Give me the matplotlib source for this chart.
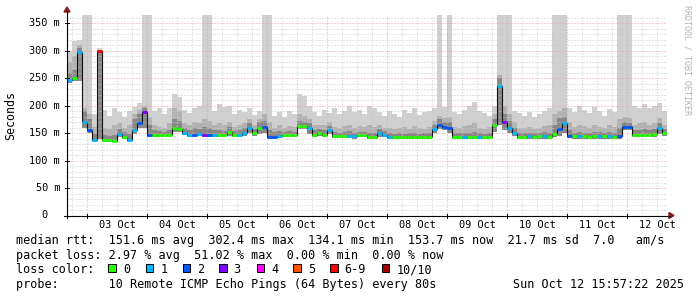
import numpy as np
import matplotlib
matplotlib.use('Agg')
import matplotlib.pyplot as plt
import matplotlib.transforms as mtransforms
from matplotlib.lines import Line2D
from matplotlib.patches import Polygon, Rectangle

W, H = 697, 297
MONO = 'DejaVu Sans Mono'

# ---- data: one sample every 2 h, starting 02 Oct 16:00 ----
step_h = 2
median = [247, 250, 298, 170, 156, 138, 300, 138, 137, 136,
          148, 143, 138, 156, 168, 188, 147, 147, 146, 146,
          147, 160, 158, 151, 147, 147, 148, 147, 146, 147,
          147, 147, 152, 147, 147, 150, 160, 150, 160, 161,
          143, 143, 145, 147, 147, 147, 163, 163, 160, 147,
          150, 147, 156, 145, 145, 145, 145, 144, 146, 146,
          143, 143, 150, 147, 143, 143, 143, 143, 143, 143,
          143, 143, 143, 158, 165, 162, 160, 143, 143, 143,
          143, 143, 143, 143, 143, 165, 235, 170, 160, 150,
          143, 143, 144, 143, 144, 144, 143, 148, 158, 168,
          145, 144, 144, 144, 143, 144, 145, 144, 144, 143,
          144, 161, 161, 147, 147, 147, 146, 148, 160, 150]
loss = [1, 0, 1, 1, 2, 1, 7, 0, 0, 0,
        1, 0, 1, 1, 2, 3, 2, 0, 0, 0,
        0, 0, 0, 1, 1, 2, 1, 3, 2, 1,
        0, 0, 0, 0, 1, 1, 1, 0, 0, 2,
        2, 2, 1, 0, 0, 0, 0, 0, 1, 0,
        0, 0, 1, 0, 0, 0, 1, 1, 0, 0,
        0, 0, 1, 1, 1, 0, 0, 0, 0, 0,
        0, 0, 0, 1, 2, 2, 2, 0, 0, 1,
        0, 0, 1, 0, 0, 0, 1, 3, 1, 1,
        0, 0, 1, 0, 0, 1, 0, 0, 2, 1,
        2, 0, 1, 0, 0, 0, 1, 0, 1, 0,
        2, 2, 2, 0, 0, 0, 0, 0, 1, 0]
# smoke: lowest ping, top of dark band, top of medium band, highest ping
rtt_lo = [242, 245, 245, 160, 150, 135, 140, 134, 134, 133,
          142, 139, 135, 148, 160, 160, 142, 143, 142, 142,
          143, 152, 152, 146, 143, 143, 144, 142, 142, 143,
          143, 143, 145, 143, 143, 145, 150, 144, 148, 150,
          139, 139, 141, 143, 143, 143, 158, 158, 148, 143,
          144, 143, 148, 141, 141, 141, 141, 140, 142, 142,
          139, 139, 143, 142, 139, 139, 139, 139, 139, 139,
          139, 139, 139, 150, 158, 155, 150, 139, 139, 139,
          139, 139, 139, 139, 139, 152, 165, 155, 150, 145,
          139, 139, 140, 139, 140, 140, 139, 142, 145, 150,
          141, 140, 140, 140, 139, 140, 140, 140, 140, 139,
          140, 155, 155, 143, 143, 143, 143, 143, 148, 145]
rtt_dark = [260, 265, 305, 190, 175, 148, 300, 146, 145, 146,
            158, 152, 148, 175, 185, 195, 165, 155, 153, 152,
            155, 175, 172, 160, 156, 160, 158, 162, 160, 155,
            155, 153, 162, 153, 155, 160, 168, 158, 170, 172,
            155, 152, 153, 152, 153, 152, 172, 170, 168, 155,
            158, 155, 163, 152, 151, 152, 153, 150, 152, 152,
            150, 150, 158, 154, 150, 149, 150, 149, 150, 150,
            149, 150, 150, 165, 175, 170, 170, 150, 150, 151,
            150, 152, 150, 149, 150, 175, 250, 185, 172, 160,
            150, 150, 151, 150, 151, 152, 150, 165, 178, 180,
            155, 151, 152, 151, 150, 152, 152, 151, 152, 150,
            160, 170, 168, 155, 156, 157, 155, 157, 168, 158]
rtt_mid = [280, 290, 310, 195, 185, 162, 302, 160, 158, 165,
           168, 160, 165, 185, 192, 200, 180, 165, 162, 160,
           168, 195, 190, 168, 165, 170, 168, 175, 172, 165,
           168, 165, 170, 162, 165, 168, 175, 165, 175, 185,
           170, 160, 165, 160, 163, 162, 185, 182, 175, 165,
           165, 165, 170, 162, 160, 163, 165, 160, 163, 162,
           165, 162, 165, 160, 160, 158, 160, 162, 158, 163,
           160, 158, 162, 172, 182, 178, 180, 162, 160, 163,
           165, 168, 160, 158, 162, 185, 255, 200, 185, 170,
           160, 160, 162, 158, 160, 163, 165, 185, 190, 195,
           170, 162, 165, 163, 160, 165, 162, 160, 165, 162,
           175, 180, 178, 165, 168, 170, 165, 168, 178, 165]
rtt_hi = [298, 318, 320, 400, 400, 185, 305, 192, 182, 195,
          188, 180, 190, 198, 205, 400, 400, 190, 195, 185,
          196, 222, 215, 192, 186, 196, 200, 400, 400, 190,
          203, 198, 200, 185, 192, 188, 196, 183, 190, 400,
          400, 182, 188, 180, 190, 185, 222, 218, 200, 188,
          182, 192, 186, 195, 184, 190, 200, 188, 192, 185,
          200, 195, 188, 182, 190, 185, 180, 192, 186, 195,
          183, 188, 190, 195, 400, 198, 400, 188, 184, 192,
          200, 207, 190, 186, 182, 200, 400, 400, 400, 190,
          186, 182, 188, 180, 185, 190, 195, 400, 400, 400,
          195, 188, 200, 192, 186, 198, 190, 182, 194, 188,
          400, 400, 400, 200, 196, 203, 195, 200, 205, 190]

day_labels = ['03 Oct', '04 Oct', '05 Oct', '06 Oct', '07 Oct',
              '08 Oct', '09 Oct', '10 Oct', '11 Oct', '12 Oct']
y_values = [0, 50, 100, 150, 200, 250, 300, 350]
y_labels = ['0', '50 m', '100 m', '150 m', '200 m', '250 m', '300 m', '350 m']

loss_names = ['0', '1', '2', '3', '4', '5', '6-9', '10/10']
loss_colors = ['#26ff00', '#00b8ff', '#0059ff', '#7e00ff',
               '#ff00ff', '#ff5500', '#ff0000', '#a10000']

legend_rtt = 'median rtt:  151.6 ms avg  302.4 ms max  134.1 ms min  153.7 ms now  21.7 ms sd  7.0   am/s'
legend_loss = 'packet loss: 2.97 % avg  51.02 % max  0.00 % min  0.00 % now'
probe_text = 'probe:       10 Remote ICMP Echo Pings (64 Bytes) every 80s'
stamp_text = 'Sun Oct 12 15:57:22 2025'


def fx(x):
    return x / W


def fy(y):
    return 1 - y / H


fig = plt.figure(figsize=(W / 100, H / 100), dpi=100)
fig.patch.set_facecolor('white')
ax = fig.add_axes([fx(67), fy(215.5), 600 / W, 200.5 / H])
ax.set_xlim(0, 240)
ax.set_ylim(0, 365)
for s in ax.spines.values():
    s.set_visible(False)
ax.set_xticks([])
ax.set_yticks([])

edges = np.arange(len(median) + 1) * step_h

# ---- smoke ----
ax.stairs(rtt_hi, edges, baseline=rtt_lo, fill=True, color='#d0d0d0', lw=0, zorder=1)
ax.stairs(rtt_mid, edges, baseline=rtt_lo, fill=True, color='#b2b2b2', lw=0, zorder=1.1)
ax.stairs(rtt_dark, edges, baseline=rtt_lo, fill=True, color='#878787', lw=0, zorder=1.2)

# ---- grid (rrdtool style dotted) ----
dots = (0, (1, 2))
for h in range(2, 241, 6):
    if (h - 8) % 24:
        ax.axvline(h, color='#c8c8c8', lw=0.72, ls=dots, zorder=2)
for v in range(10, 365, 10):
    if v % 50:
        ax.axhline(v, color='#c8c8c8', lw=0.72, ls=dots, zorder=2)
for h in range(8, 241, 24):
    ax.axvline(h, color='#eaa0a0', lw=0.72, ls=dots, zorder=2.1)
for v in y_values[1:]:
    ax.axhline(v, color='#eaa0a0', lw=0.72, ls=dots, zorder=2.1)

# ---- median, coloured by loss ----
ax.stairs(median, edges, baseline=None, color='#111111', lw=0.8, zorder=3)
cidx = [l if l < 6 else (6 if l < 10 else 7) for l in loss]
ax.hlines(median, edges[:-1], edges[1:], colors=[loss_colors[c] for c in cidx],
          lw=2.0, zorder=4)

# ---- axes lines with arrows ----
fig.add_artist(Line2D([fx(67), fx(67)], [fy(218), fy(11)], color='black', lw=0.8))
fig.add_artist(Line2D([fx(64), fx(670)], [fy(215.5), fy(215.5)], color='black', lw=0.8))
fig.add_artist(Polygon([[fx(64), fy(12)], [fx(70), fy(12)], [fx(67), fy(7)]],
                       closed=True, color='#8b1a1a', transform=fig.transFigure))
fig.add_artist(Polygon([[fx(669), fy(212.5)], [fx(669), fy(218.5)], [fx(674), fy(215.5)]],
                       closed=True, color='#8b1a1a', transform=fig.transFigure))

# ticks
for h in range(8, 241, 24):
    x = 67 + h * 2.5
    fig.add_artist(Line2D([fx(x), fx(x)], [fy(213.5), fy(217.5)], color='black', lw=0.7))
for v in y_values:
    y = 215.5 - v * 200.5 / 365
    fig.add_artist(Line2D([fx(65), fx(69)], [fy(y), fy(y)], color='black', lw=0.7))

# ---- tick labels ----
ytr = mtransforms.blended_transform_factory(fig.transFigure, ax.transData)
for v, lab in zip(y_values, y_labels):
    xr = 60 if lab.endswith('m') else 47.8
    ax.text(fx(xr), v, lab, transform=ytr, ha='right', va='center',
            family=MONO, fontsize=7.4, color='black')
xtr = mtransforms.blended_transform_factory(ax.transData, fig.transFigure)
for k, lab in enumerate(day_labels):
    ax.text(20 + 24 * k, fy(228.3), lab, transform=xtr, ha='center', va='baseline',
            family=MONO, fontsize=7.4)

fig.text(fx(10.5), fy(115), 'Seconds', rotation=90, ha='center', va='center',
         family=MONO, fontsize=8.4)
fig.text(fx(687.5), fy(5), 'RRDTOOL / TOBI OETIKER', rotation=270, ha='center',
         va='top', family=MONO, fontsize=6, color='#b4b4b4')

# ---- legend block ----
FS = 8.47
fig.text(fx(16.5), fy(244.3), legend_rtt, family=MONO, fontsize=FS, va='baseline')
fig.text(fx(16.5), fy(258.8), legend_loss, family=MONO, fontsize=FS, va='baseline')
fig.text(fx(16.5), fy(273.2), 'loss color:', family=MONO, fontsize=FS, va='baseline')
sq_x = [108.3, 145.7, 182.7, 219, 256.7, 293.3, 330, 381.7]
for x, name, c in zip(sq_x, loss_names, loss_colors):
    fig.add_artist(Rectangle((fx(x), fy(272)), 7.7 / W, 7.7 / H, transform=fig.transFigure,
                             facecolor=c, edgecolor='black', lw=0.7))
    fig.text(fx(x + 14.5), fy(273.2), name, family=MONO, fontsize=FS, va='baseline')
fig.text(fx(16.5), fy(287.7), probe_text, family=MONO, fontsize=FS, va='baseline')
fig.text(fx(513.3), fy(287.7), stamp_text, family=MONO, fontsize=FS, va='baseline')

fig.savefig('out.png', dpi=100, facecolor='white')
